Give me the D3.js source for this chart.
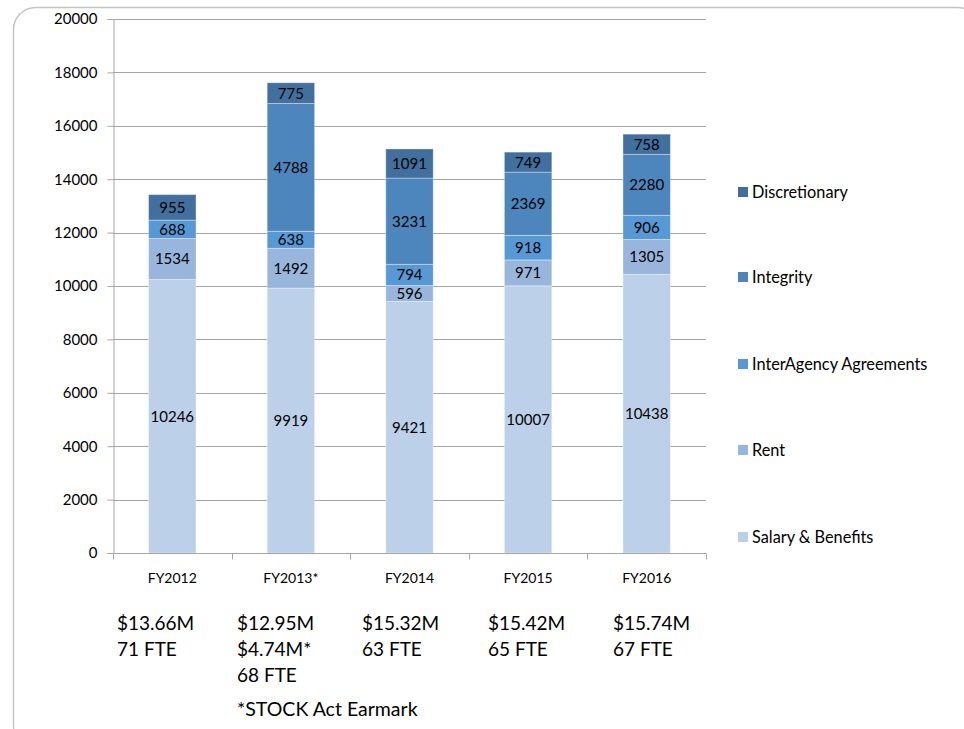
<!DOCTYPE html>
<html>
<head>
<meta charset="utf-8">
<script src="https://cdn.jsdelivr.net/npm/d3@7"></script>
<style>
  html, body { margin: 0; padding: 0; background: #fff; }
  svg { display: block; font-family: Lato, "Open Sans", sans-serif; }
</style>
</head>
<body>
<svg id="chart" width="964" height="729"></svg>
<script>
// Budget by fiscal year, stacked by cost category ($K)
const years = ["FY2012", "FY2013*", "FY2014", "FY2015", "FY2016"];
const seriesNames = ["Salary & Benefits", "Rent", "InterAgency Agreements", "Integrity", "Discretionary"];
const salary        = [10246, 9919, 9421, 10007, 10438];
const rent          = [1534, 1492, 596, 971, 1305];
const interAgency   = [688, 638, 794, 918, 906];
const integrity     = [0, 4788, 3231, 2369, 2280];
const discretionary = [955, 775, 1091, 749, 758];
const yTicks = [0, 2000, 4000, 6000, 8000, 10000, 12000, 14000, 16000, 18000, 20000];
// Funding / staffing notes under each year
const notes = [
  ["$13.66M", "71 FTE"],
  ["$12.95M", "$4.74M*", "68 FTE"],
  ["$15.32M", "63 FTE"],
  ["$15.42M", "65 FTE"],
  ["$15.74M", "67 FTE"]
];
const footnote = "*STOCK Act Earmark";

const colors = ["#BCD0E9", "#98B6DB", "#5799D4", "#4D86BC", "#41709E"];

const svg = d3.select("#chart");

// rounded slide frame
svg.append("rect")
  .attr("x", 13.5).attr("y", 7.5)
  .attr("width", 966).attr("height", 740)
  .attr("rx", 22).attr("ry", 22)
  .attr("fill", "none").attr("stroke", "#c4c4c4").attr("stroke-width", 1.5);

const m = { left: 113, right: 706, top: 19, bottom: 553 };

const x = d3.scaleBand().domain(years).range([m.left, m.right]).paddingInner(0.6).paddingOuter(0.3);
const y = d3.scaleLinear().domain([0, 20000]).range([m.bottom, m.top]);

const table = years.map((yr, i) => ({
  year: yr,
  "Salary & Benefits": salary[i],
  "Rent": rent[i],
  "InterAgency Agreements": interAgency[i],
  "Integrity": integrity[i],
  "Discretionary": discretionary[i]
}));
const stacked = d3.stack().keys(seriesNames)(table);

// gridlines
svg.append("g")
  .selectAll("line")
  .data(yTicks.filter(t => t > 0))
  .join("line")
  .attr("x1", m.left).attr("x2", m.right)
  .attr("y1", d => Math.round(y(d)) + 0.5).attr("y2", d => Math.round(y(d)) + 0.5)
  .attr("stroke", "#a6a6a6").attr("stroke-width", 1);

// y axis
const yAxis = svg.append("g")
  .attr("transform", `translate(${m.left + 0.5},0)`)
  .call(d3.axisLeft(y).tickValues(yTicks).tickSize(6).tickPadding(10).tickFormat(d3.format("d")));
yAxis.select(".domain").attr("stroke", "#a6a6a6");
yAxis.selectAll(".tick line").attr("stroke", "#a6a6a6");
yAxis.selectAll(".tick text").attr("font-size", 15).attr("fill", "#000").attr("font-family", "Lato");

// bars
svg.append("g")
  .selectAll("g")
  .data(stacked)
  .join("g")
  .attr("fill", (d, i) => colors[i])
  .selectAll("rect")
  .data(d => d.filter(s => s[1] - s[0] > 0))
  .join("rect")
  .attr("x", d => x(d.data.year))
  .attr("width", x.bandwidth())
  .attr("y", d => y(d[1]))
  .attr("height", d => y(d[0]) - y(d[1]))
  .attr("stroke", "rgba(255,255,255,0.35)")
  .attr("stroke-width", 1);

// value labels
svg.append("g")
  .selectAll("g")
  .data(stacked)
  .join("g")
  .selectAll("text")
  .data(d => d.filter(s => s[1] - s[0] > 0).map(s => ({ s, key: d.key })))
  .join("text")
  .attr("x", d => x(d.s.data.year) + x.bandwidth() / 2)
  .attr("y", d => (y(d.s[0]) + y(d.s[1])) / 2)
  .attr("dy", "0.36em")
  .attr("text-anchor", "middle")
  .attr("font-size", 15)
  .attr("fill", "#000")
  .text(d => d.s.data[d.key]);

// x axis
const xAxis = svg.append("g")
  .attr("transform", `translate(0,${m.bottom + 0.5})`);
xAxis.append("line")
  .attr("x1", m.left).attr("x2", m.right)
  .attr("stroke", "#a6a6a6");
const edges = d3.range(years.length + 1).map(i => m.left + i * (m.right - m.left) / years.length);
xAxis.selectAll("line.tk")
  .data(edges)
  .join("line")
  .attr("class", "tk")
  .attr("x1", d => Math.round(d) + 0.5).attr("x2", d => Math.round(d) + 0.5)
  .attr("y1", 0).attr("y2", 6)
  .attr("stroke", "#a6a6a6");
xAxis.selectAll("text")
  .data(years)
  .join("text")
  .attr("x", d => x(d) + x.bandwidth() / 2)
  .attr("y", 29)
  .attr("text-anchor", "middle")
  .attr("font-size", 14)
  .attr("fill", "#000")
  .text(d => d);

// legend
const legendY = [537, 450, 364, 277, 192];
const legend = svg.append("g")
  .selectAll("g")
  .data(seriesNames)
  .join("g")
  .attr("transform", (d, i) => `translate(738,${legendY[i]})`);
legend.append("rect")
  .attr("x", 0).attr("y", -5).attr("width", 10).attr("height", 10)
  .attr("fill", (d, i) => colors[i]);
legend.append("text")
  .attr("x", 14).attr("y", 0).attr("dy", "0.36em")
  .attr("font-size", 16.3).attr("fill", "#000")
  .text(d => d);

// notes under the axis
const noteX = [117, 237, 362, 488, 613];
svg.append("g")
  .selectAll("text")
  .data(notes)
  .join("text")
  .attr("x", (d, i) => noteX[i])
  .attr("y", 630)
  .attr("font-size", 19)
  .attr("fill", "#000")
  .selectAll("tspan")
  .data(d => d)
  .join("tspan")
  .attr("x", function () { return this.parentNode.getAttribute("x"); })
  .attr("dy", (d, i) => i === 0 ? 0 : 26)
  .text(d => d);

svg.append("text")
  .attr("x", noteX[1]).attr("y", 716)
  .attr("font-size", 19.5).attr("fill", "#000")
  .text(footnote);
</script>
</body>
</html>
